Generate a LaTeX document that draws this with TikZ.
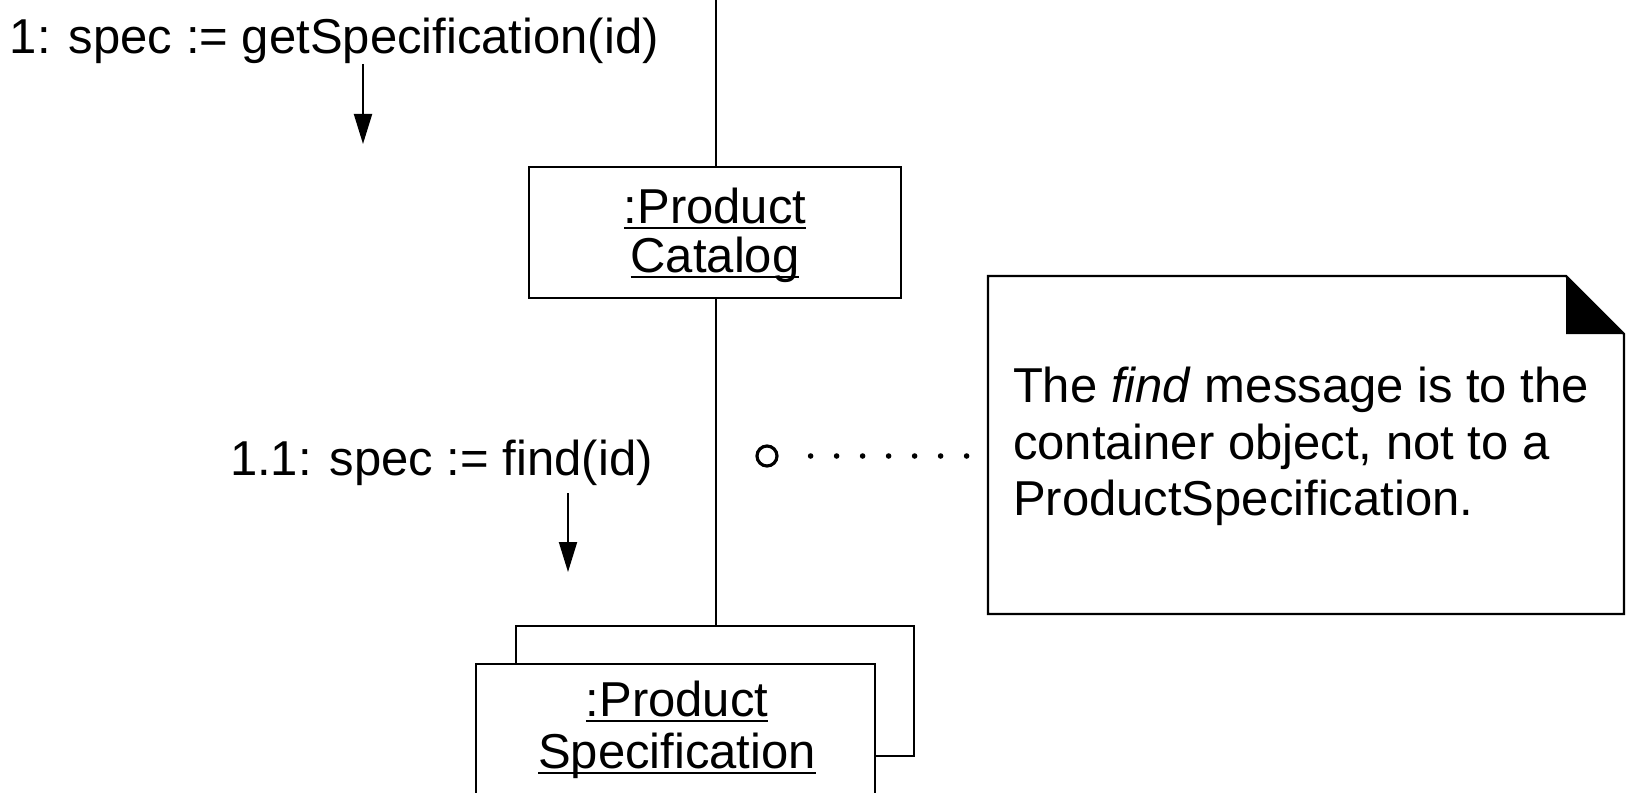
\documentclass[tikz,border=0pt]{standalone}
\usepackage{fontspec}
\setmainfont{Liberation Sans}
\usetikzlibrary{arrows.meta}
\newsavebox\ulbox
\newcommand{\ulword}[1]{\sbox\ulbox{#1}\rlap{\rule[-3pt]{\wd\ulbox}{1pt}}\usebox\ulbox}
\tikzset{
  txt/.style={inner sep=0pt, outer sep=0pt, font=\fontsize{24.5}{28}\selectfont},
  objbox/.style={draw, line width=1.1pt, fill=white},
  life/.style={line width=1.1pt},
  msgarrow/.style={line width=1pt, -{Triangle[width=9pt,length=15pt]}},
  dotline/.style={line width=2.8pt, line cap=round, dash pattern=on 0pt off 13pt},
}
\begin{document}
\begin{tikzpicture}[x=0.5pt,y=-0.5pt]
\useasboundingbox (0,0) rectangle (1626,792);
\clip (0,0) rectangle (1626,792);
% message labels
\node[txt, anchor=base west] (m1) at (10,54) {1: spec := getSpecification(id)};
\coordinate (a1s) at (363,64);
\coordinate (a1e) at (363,144);
\draw[msgarrow] (a1s) -- (a1e);
\node[txt, anchor=base west] (m2) at (230,475) {1.1: spec := find(id)};
\coordinate (a2s) at (568,493);
\coordinate (a2e) at (568,572);
\draw[msgarrow] (a2s) -- (a2e);
% product catalog
\node[objbox, minimum width=186pt, minimum height=65.5pt, anchor=north west, inner sep=0pt] (cat) at (528,166) {};
\node[txt, anchor=base] (cat1) at (715,223) {\ulword{:Product}};
\node[txt, anchor=base] (cat2) at (715,272) {\ulword{Catalog}};
% product specification (multiobject)
\node[objbox, minimum width=199pt, minimum height=65pt, anchor=north west, inner sep=0pt] (back) at (515,625) {};
\node[objbox, minimum width=199.5pt, minimum height=70pt, anchor=north west, inner sep=0pt] (front) at (475,663) {};
\node[txt, anchor=base] (ps1) at (677,716) {\ulword{:Product}};
\node[txt, anchor=base] (ps2) at (677,768) {\ulword{Specification}};
% lifeline
\coordinate (top) at (716,0);
\draw[life] (top) -- (top |- cat.north);
\draw[life] (top |- cat.south) -- (top |- back.north);
% note
\coordinate (nNW) at (988,276);
\coordinate (nF) at (1566,276);
\coordinate (nFB) at (1566,334);
\coordinate (nE) at (1624,334);
\coordinate (nSE) at (1624,614);
\coordinate (nSW) at (988,614);
\draw[line width=1.1pt] (nNW) -- (nF) -- (nE) -- (nSE) -- (nSW) -- cycle;
\fill (nF) -- (nFB) -- (nE) -- cycle;
\node[txt, anchor=base west] (t1) at (1013,402) {The \textit{find} message is to the};
\node[txt, anchor=base west] (t2) at (1013,459) {container object, not to a};
\node[txt, anchor=base west] (t3) at (1013,515) {ProductSpecification.};
% anchor circle and dotted link
\node[draw, circle, line width=1.6pt, minimum size=10pt, inner sep=0pt] (circ) at (767,456) {};
\draw[dotline, shorten <=16pt] (circ.east) -- (nNW |- circ.east);
\end{tikzpicture}
\end{document}
